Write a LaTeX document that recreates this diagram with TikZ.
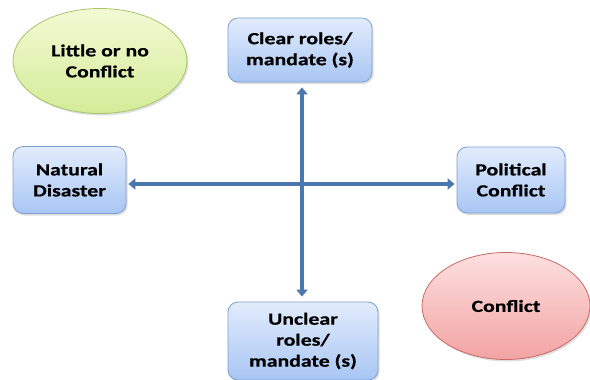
\documentclass[tikz,border=0pt]{standalone}
\usepackage{fontspec}
\setmainfont[FakeStretch=1.28,FakeBold=0.6]{Carlito}
\usetikzlibrary{arrows.meta,shadows,shapes.geometric}

\definecolor{boxtop}{HTML}{E2ECFC}
\definecolor{boxbot}{HTML}{A8C6F4}
\definecolor{boxline}{HTML}{7F9FD0}
\definecolor{greentop}{HTML}{F3FAD4}
\definecolor{greenbot}{HTML}{D4EC98}
\definecolor{greenline}{HTML}{A6C46A}
\definecolor{redtop}{HTML}{FDE0E0}
\definecolor{redbot}{HTML}{F2A3A3}
\definecolor{redline}{HTML}{C96A66}
\definecolor{axisblue}{HTML}{4A77AC}

\tikzset{
  labeltext/.style={font=\bfseries\fontsize{17}{21}\selectfont, align=center, text=black},
  rolebox/.style={labeltext, draw=boxline, line width=0.8pt, rounded corners=10pt,
    top color=boxtop, bottom color=boxbot,
    drop shadow={shadow xshift=1.5pt, shadow yshift=-2pt, opacity=0.25}},
  zone/.style={labeltext, ellipse, line width=0.8pt,
    drop shadow={shadow xshift=1.5pt, shadow yshift=-2pt, opacity=0.25}},
  calm/.style={zone, draw=greenline, top color=greentop, bottom color=greenbot},
  clash/.style={zone, draw=redline, top color=redtop, bottom color=redbot},
  axis/.style={draw=axisblue, line width=4pt,
    {Triangle[width=11pt,length=7pt]}-{Triangle[width=11pt,length=7pt]}}
}

\begin{document}
\begin{tikzpicture}[x=1pt,y=-1pt]
  \useasboundingbox (0,0) rectangle (590,380);

  % quadrant labels
  \node[calm, inner sep=0pt, minimum width=174pt, minimum height=105pt] (little) at (100,61)
    {Little or no\\Conflict};
  \node[clash, inner sep=0pt, minimum width=168pt, minimum height=107pt] (conflict) at (506,306)
    {Conflict};

  % axis end boxes
  \node[rolebox, inner sep=0pt, minimum width=144pt, minimum height=64pt] (clear) at (300,50)
    {Clear roles/\\mandate (s)};
  \node[rolebox, inner sep=0pt, minimum width=150pt, minimum height=78pt] (unclear) at (303,341)
    {Unclear\\roles/\\mandate (s)};
  \node[rolebox, inner sep=0pt, minimum width=113pt, minimum height=67pt] (natural) at (69.5,180)
    {Natural\\Disaster};
  \node[rolebox, inner sep=0pt, minimum width=108pt, minimum height=66pt] (political) at (511,180)
    {Political\\Conflict};

  % axes
  \draw[axis] ([xshift=2pt,yshift=-5pt]clear.south) -- ([xshift=-1pt,yshift=5pt]unclear.north);
  \draw[axis] ([xshift=2pt,yshift=-4pt]natural.east) -- ([xshift=-2pt,yshift=-4pt]political.west);
\end{tikzpicture}
\end{document}
